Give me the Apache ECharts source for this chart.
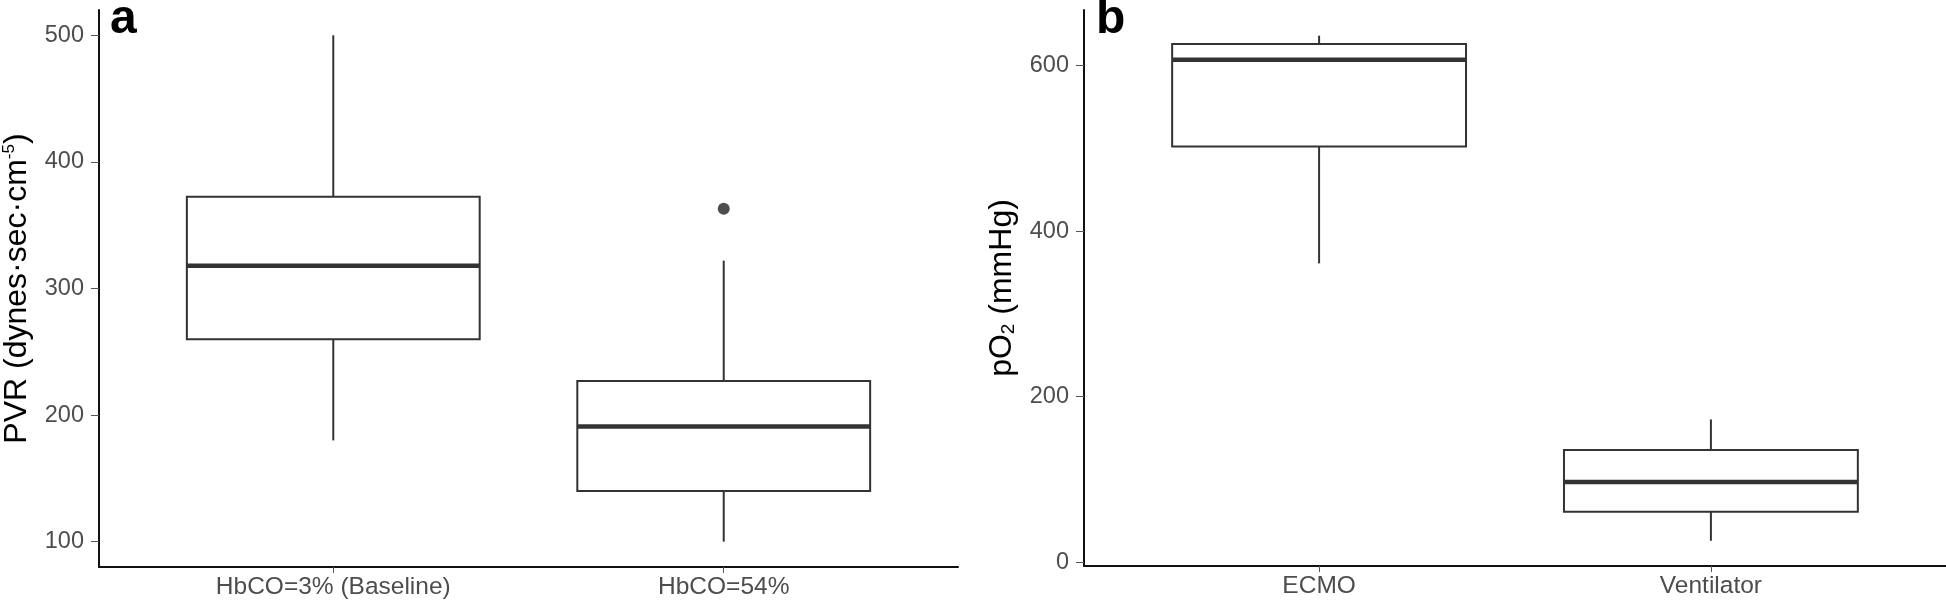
<!DOCTYPE html>
<html><head><meta charset="utf-8">
<script src="https://cdn.jsdelivr.net/npm/echarts@6/dist/echarts.min.js"></script>
<style>html,body{margin:0;padding:0;background:#fff}#c{width:1946px;height:603px}</style>
</head><body><div id="c"></div>
<script>
// Panel a
const categoriesA = ['HbCO=3% (Baseline)', 'HbCO=54%'];
// [min, Q1, median, Q3, max]
const statsA = [[180, 260, 318, 372.5, 500], [100, 140, 191, 227, 322]];
const outlierCatA = [2];
const outlierValA = [363];
const yTicksA = [100, 200, 300, 400, 500];
// Panel b
const categoriesB = ['ECMO', 'Ventilator'];
const statsB = [[361, 502, 607, 626, 636], [26, 61, 97, 135.5, 172.5]];
const yTicksB = [0, 200, 400, 600];

const FONT = "'Liberation Sans', Arial, sans-serif";
const BOX_W = 0.75;
const LINE = '#333333';

function boxData(stats) { return stats.map((s, i) => [i + 1].concat(s)); }

function renderBox(params, api) {
  const x = api.value(0);
  const half = api.size([BOX_W, 0])[0] / 2;
  const pMin = api.coord([x, api.value(1)]);
  const pQ1 = api.coord([x, api.value(2)]);
  const pMed = api.coord([x, api.value(3)]);
  const pQ3 = api.coord([x, api.value(4)]);
  const pMax = api.coord([x, api.value(5)]);
  const cx = pMin[0];
  const st = { stroke: LINE, lineWidth: 2 };
  return { type: 'group', children: [
    { type: 'line', shape: { x1: cx, y1: pMax[1], x2: cx, y2: pQ3[1] }, style: st },
    { type: 'line', shape: { x1: cx, y1: pQ1[1], x2: cx, y2: pMin[1] }, style: st },
    { type: 'rect', shape: { x: cx - half, y: pQ3[1], width: 2 * half, height: pQ1[1] - pQ3[1] }, style: { fill: '#fff', stroke: LINE, lineWidth: 2 } },
    { type: 'line', shape: { x1: cx - half, y1: pMed[1], x2: cx + half, y2: pMed[1] }, style: { stroke: LINE, lineWidth: 4.5 } }
  ]};
}

function xAxisOf(idx, cats) {
  return {
    gridIndex: idx, type: 'value', min: 0.4, max: 2.6,
    splitLine: { show: false },
    axisLine: { show: true, onZero: false, lineStyle: { color: '#111', width: 2 } },
    axisTick: { show: true, customValues: [1, 2], length: 6, lineStyle: { color: '#555', width: 1 } },
    axisLabel: { customValues: [1, 2], margin: 8, fontSize: 24.5, color: '#4d4d4d', fontFamily: FONT,
      formatter: v => cats[Math.round(v) - 1] }
  };
}
function yAxisOf(idx, min, max, ticks, name, rich) {
  return {
    gridIndex: idx, type: 'value', min: min, max: max,
    splitLine: { show: false },
    axisLine: { show: true, onZero: false, lineStyle: { color: '#111', width: 2 } },
    axisTick: { show: true, customValues: ticks, length: 8, lineStyle: { color: '#555', width: 1 } },
    axisLabel: { customValues: ticks, margin: 15, fontSize: 23.5, color: '#4d4d4d', fontFamily: FONT },
    name: name, nameLocation: 'middle', nameGap: 66,
    nameTextStyle: { fontFamily: FONT, rich: rich }
  };
}

const richA = {
  n: { fontSize: 32, color: '#000', fontFamily: FONT, lineHeight: 32 },
  s: { fontSize: 17, color: '#000', fontFamily: FONT, lineHeight: 19, verticalAlign: 'top' }
};
const richB = {
  n: { fontSize: 32, color: '#000', fontFamily: FONT, lineHeight: 32 },
  s: { fontSize: 19, color: '#000', fontFamily: FONT, lineHeight: 14, verticalAlign: 'bottom' }
};

const chart = echarts.init(document.getElementById('c'), null, { renderer: 'canvas' });
chart.setOption({
  backgroundColor: '#fff',
  animation: false,
  grid: [
    { left: 97, right: 988, top: 10, bottom: 36 },
    { left: 1084, right: 0, top: 10, bottom: 37 }
  ],
  xAxis: [xAxisOf(0, categoriesA), xAxisOf(1, categoriesB)],
  yAxis: [
    yAxisOf(0, 80, 520, yTicksA, '{n|PVR (dynes·sec·cm}{s|-5}{n|)}', richA),
    yAxisOf(1, -4.5, 667, yTicksB, '{n|pO}{s|2}{n| (mmHg)}', richB)
  ],
  graphic: [
    { type: 'text', left: 110, top: -4, style: { text: 'a', font: 'bold 48px ' + FONT, fill: '#000' } },
    { type: 'text', left: 1096, top: -4, style: { text: 'b', font: 'bold 48px ' + FONT, fill: '#000' } }
  ],
  series: [
    { type: 'custom', xAxisIndex: 0, yAxisIndex: 0, renderItem: renderBox,
      encode: { x: 0, y: [1, 2, 3, 4, 5] }, data: boxData(statsA) },
    { type: 'scatter', xAxisIndex: 0, yAxisIndex: 0, symbolSize: 12,
      itemStyle: { color: '#222' }, data: outlierCatA.map((c, i) => [c, outlierValA[i]]) },
    { type: 'custom', xAxisIndex: 1, yAxisIndex: 1, renderItem: renderBox,
      encode: { x: 0, y: [1, 2, 3, 4, 5] }, data: boxData(statsB) }
  ]
});
</script>
</body></html>
